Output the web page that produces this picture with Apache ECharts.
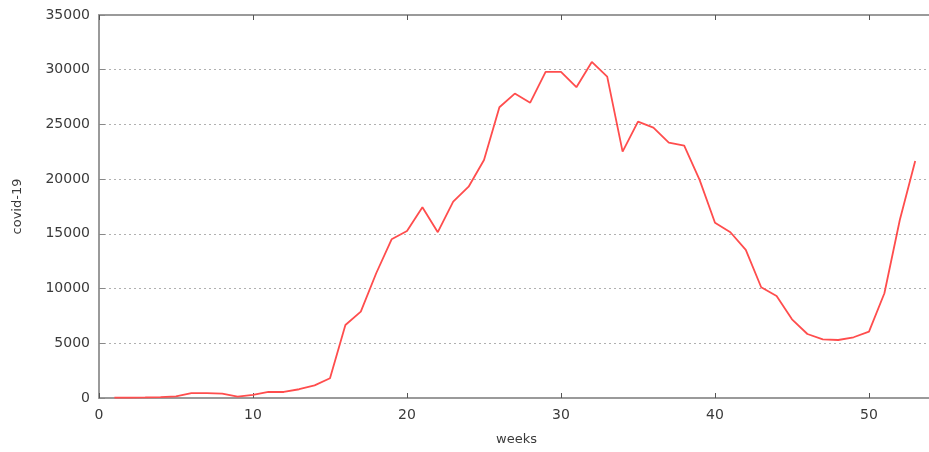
<!DOCTYPE html>
<html><head><meta charset="utf-8">
<script src="https://cdn.jsdelivr.net/npm/echarts@6/dist/echarts.min.js"></script>
<style>html,body{margin:0;padding:0;background:#fff}#c{width:929px;height:452px}</style>
</head><body><div id="c"></div>
<script>
var weeks = [1,2,3,4,5,6,7,8,9,10,11,12,13,14,15,16,17,18,19,20,21,22,23,24,25,26,27,28,29,30,31,32,33,34,35,36,37,38,39,40,41,42,43,44,45,46,47,48,49,50,51,52,53];
var cases = [30,40,50,80,150,450,450,400,120,280,550,550,800,1160,1800,6670,7890,11400,14500,15260,17430,15150,17940,19310,21750,26570,27820,26990,29800,29800,28400,30710,29370,22510,25260,24710,23340,23060,19930,16020,15150,13530,10120,9320,7190,5850,5360,5300,5550,6060,9570,16270,21660];
var yTicks = [0,5000,10000,15000,20000,25000,30000,35000];
var xTicks = [0,10,20,30,40,50];

var chart = echarts.init(document.getElementById('c'));
var font = 'DejaVu Sans';
var axisGray = '#9a9a9a';
function xFmt(v){ return xTicks.indexOf(v) >= 0 ? String(v) : ''; }
chart.setOption({
  animation: false,
  grid: {left: 99, top: 15, height: 383, width: 924, outerBoundsMode: 'none', containLabel: false},
  xAxis: [{
    type: 'value', min: 0, max: 60, interval: 10, position: 'bottom',
    axisLine: {show: true, lineStyle: {color: axisGray, width: 2}},
    axisTick: {show: true, inside: true, length: 5, lineStyle: {color: '#555', width: 1}},
    axisLabel: {color: '#3a3a3a', fontFamily: font, fontSize: 14, margin: 10, formatter: xFmt},
    splitLine: {show: false}
  },{
    type: 'value', min: 0, max: 60, interval: 10, position: 'top',
    axisLine: {show: true, lineStyle: {color: axisGray, width: 2}},
    axisTick: {show: true, inside: true, length: 5, lineStyle: {color: '#555', width: 1}},
    axisLabel: {show: false}, splitLine: {show: false}
  }],
  yAxis: {
    type: 'value', min: yTicks[0], max: yTicks[yTicks.length-1], interval: 5000,
    name: 'covid-19', nameLocation: 'middle', nameGap: 75, nameRotate: 90,
    nameTextStyle: {color: '#3a3a3a', fontFamily: font, fontSize: 13},
    axisLine: {show: true, lineStyle: {color: axisGray, width: 2}},
    axisTick: {show: true, inside: true, length: 6, lineStyle: {color: '#888', width: 1}},
    axisLabel: {color: '#3a3a3a', fontFamily: font, fontSize: 14, margin: 9, formatter: function(v){ return String(v); }},
    splitLine: {show: true, lineStyle: {color: '#b0b0b0', type: [2, 3], width: 1}}
  },
  graphic: [{type: 'text', left: 496, top: 433, style: {text: 'weeks', fill: '#3a3a3a', font: '13px "DejaVu Sans"'}}],
  series: [{
    type: 'line', data: weeks.map(function(w, i){ return [w, cases[i]]; }),
    showSymbol: false, lineStyle: {color: '#ff4d4d', width: 1.8}, itemStyle: {color: '#ff4d4d'}
  }]
});
</script></body></html>
